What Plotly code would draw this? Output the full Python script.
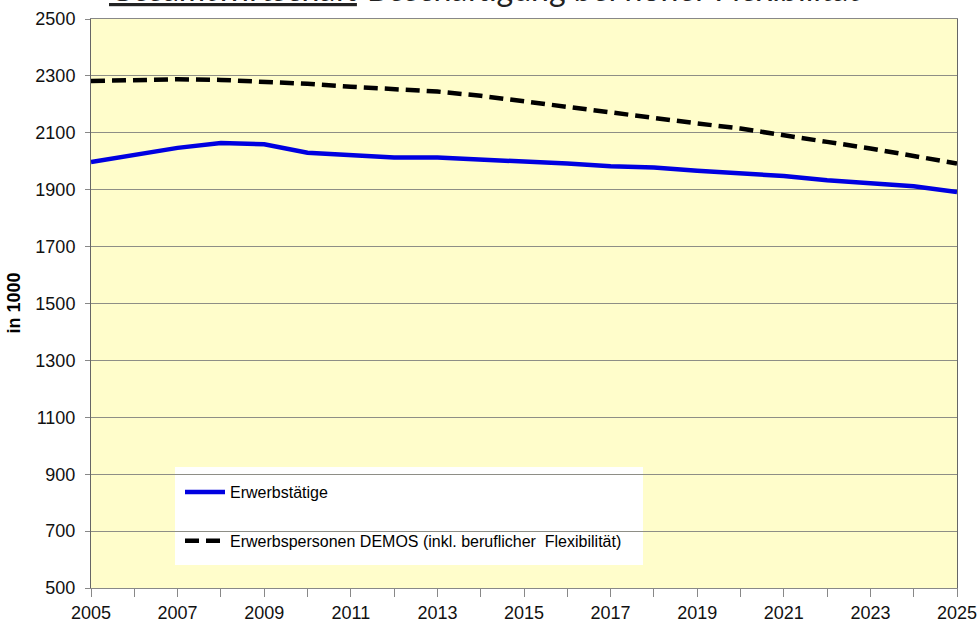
import plotly.graph_objects as go

years = list(range(2005, 2026))
erwerbstaetige = [1997, 2021, 2047, 2064, 2060, 2030, 2020, 2013, 2013, 2006, 2002,
                  1992, 1982, 1978, 1967, 1957, 1948, 1933, 1921, 1912, 1892]
erwerbspersonen = [2282, 2286, 2288, 2286, 2280, 2272, 2262, 2255, 2245, 2230, 2210,
                   2192, 2172, 2152, 2133, 2115, 2093, 2068, 2045, 2019, 1992]
x_tick_years = list(range(2005, 2026, 2))
y_ticks = list(range(500, 2501, 200))

name_1 = "Erwerbstätige"
name_2 = "Erwerbspersonen DEMOS (inkl. beruflicher  Flexibilität)"
title_underlined = "Gesamtwirtschaft"
title_rest = "Beschäftigung bei hoher Flexibilität"

# plot-area geometry in pixels (layout only)
L, R, T, B = 91, 957, 19, 588
W, H = R - L, B - T


def px_x(p):
    return (p - L) / W


def px_y(p):
    return (B - p) / H


fig = go.Figure()
fig.add_trace(go.Scatter(x=years, y=erwerbstaetige, mode="lines", name=name_1,
                         legendgroup="a",
                         line=dict(color="#0000E0", width=4.5)))
fig.add_trace(go.Scatter(x=years, y=erwerbspersonen, mode="lines", name=name_2,
                         legendgroup="b",
                         line=dict(color="#000000", width=4.5, dash="14px,7px")))

font_main = "Liberation Sans, Arial, sans-serif"

fig.update_layout(
    width=978, height=630,
    margin=dict(l=L, r=978 - R, t=T, b=630 - B, autoexpand=False),
    paper_bgcolor="white",
    plot_bgcolor="#FFFDCB",
    showlegend=True,
    legend=dict(x=px_x(180), y=px_y(475), xanchor="left", yanchor="top",
                bgcolor="rgba(0,0,0,0)", borderwidth=0,
                font=dict(family=font_main, size=16, color="#000"),
                tracegroupgap=25, traceorder="grouped",
                itemwidth=40),
    shapes=[dict(type="rect", xref="paper", yref="paper",
                 x0=px_x(175), x1=px_x(643), y0=px_y(565), y1=px_y(467),
                 fillcolor="white", line=dict(width=0), layer="between")],
    xaxis=dict(range=[2005, 2025], tickvals=x_tick_years, automargin=False,
               ticks="outside", ticklen=8, tickcolor="#888", tickwidth=1,
               minor=dict(dtick=1, tick0=2005, ticks="outside", ticklen=8,
                          tickcolor="#888", tickwidth=1, showgrid=False),
               showgrid=False, zeroline=False,
               showline=True, linecolor="#888", linewidth=1, mirror=True,
               tickfont=dict(family=font_main, size=18, color="#111")),
    yaxis=dict(range=[500, 2500], tickvals=y_ticks, automargin=False,
               ticks="outside", ticklen=5, tickcolor="#888",
               ticklabelstandoff=6,
               showgrid=True, gridcolor="#8E8E86", gridwidth=1,
               zeroline=False,
               showline=True, linecolor="#666", linewidth=1, mirror=True,
               tickfont=dict(family=font_main, size=18, color="#111")),
    annotations=[
        dict(text="<b>in 1000</b>", xref="paper", yref="paper",
             x=px_x(13), y=0.5, xanchor="center", yanchor="middle", textangle=-90,
             showarrow=False, font=dict(family=font_main, size=18, color="#000")),
        dict(text="<u>" + title_underlined + "</u>", xref="paper", yref="paper",
             x=px_x(107), y=1.0155, xanchor="left", yanchor="bottom",
             showarrow=False, font=dict(family="Lato, sans-serif", size=32, color="#222")),
        dict(text=title_rest, xref="paper", yref="paper",
             x=px_x(365), y=1.0155, xanchor="left", yanchor="bottom",
             showarrow=False, font=dict(family="Lato, sans-serif", size=32, color="#222")),
    ],
)

fig.write_html("out.html", config={"displayModeBar": False},
               post_script="document.body.style.margin='0';")
